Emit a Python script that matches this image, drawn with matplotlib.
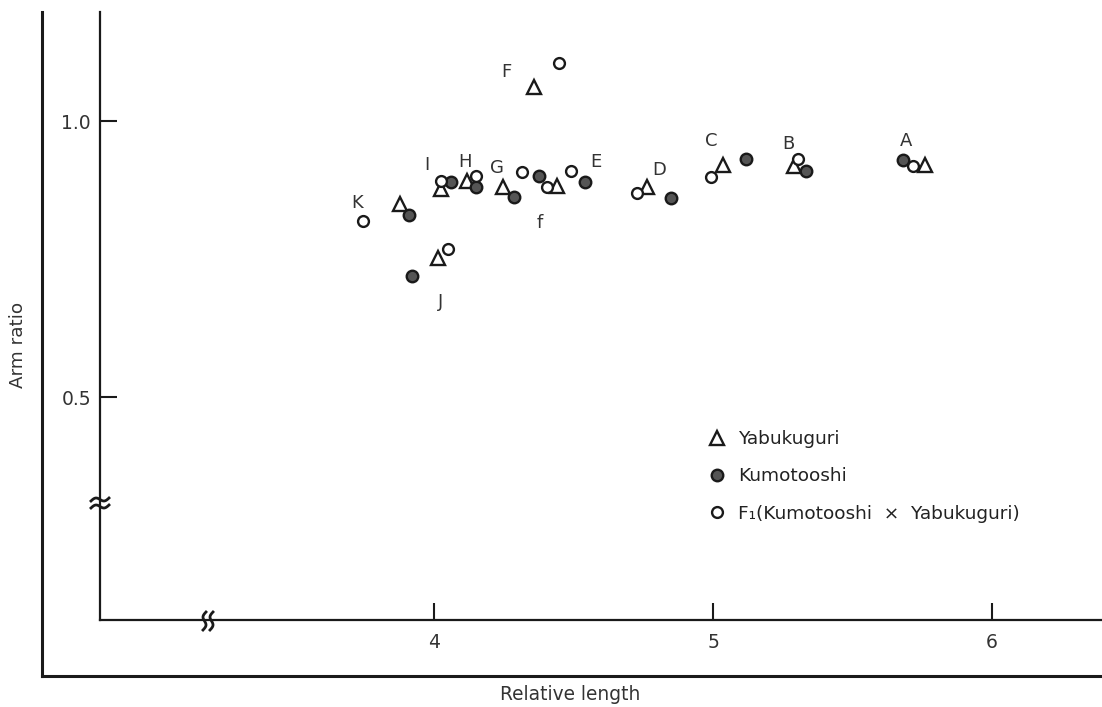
import matplotlib
matplotlib.use("Agg")
import matplotlib.pyplot as plt
from matplotlib.lines import Line2D
import numpy as np

plt.rcParams['font.family'] = ['DejaVu Sans']

# ---------------- data ----------------
yabu_x = [4.360, 3.878, 4.016, 4.025, 4.119, 4.246, 4.442, 4.764, 5.037, 5.290, 5.760]
yabu_y = [1.062, 0.850, 0.751, 0.876, 0.892, 0.881, 0.883, 0.881, 0.920, 0.918, 0.920]

kumo_x = [3.912, 3.920, 4.061, 4.151, 4.287, 4.377, 4.541, 4.848, 5.117, 5.332, 5.682]
kumo_y = [0.829, 0.719, 0.890, 0.881, 0.863, 0.901, 0.890, 0.860, 0.931, 0.909, 0.929]

f1_x = [4.449, 3.747, 4.051, 4.024, 4.151, 4.314, 4.406, 4.491, 4.726, 4.993, 5.303, 5.718]
f1_y = [1.106, 0.818, 0.769, 0.892, 0.901, 0.908, 0.881, 0.910, 0.870, 0.899, 0.932, 0.919]

point_labels = ['A', 'B', 'C', 'D', 'E', 'F', 'G', 'H', 'I', 'J', 'K', 'f']
label_x = [5.692, 5.270, 4.995, 4.808, 4.579, 4.260, 4.227, 4.111, 3.974, 4.025, 3.723, 4.380]
label_y = [0.963, 0.958, 0.964, 0.911, 0.926, 1.089, 0.914, 0.926, 0.920, 0.672, 0.851, 0.816]

x_ticks = [4, 5, 6]
x_ticklabels = ['4', '5', '6']
y_ticks = [0.5, 1.0]
y_ticklabels = ['0.5', '1.0']

series_names = ['Yabukuguri', 'Kumotooshi', 'F\u2081(Kumotooshi  \u00d7  Yabukuguri)']

# ---------------- figure ----------------
W, H = 1102, 707
fig = plt.figure(figsize=(W / 100, H / 100), dpi=100)
fig.patch.set_facecolor('white')

def fx(px):
    return px / W

def fy(py):
    return 1 - py / H

ink = '#1a1a1a'

# outer frame (left + bottom)
outer = fig.add_axes([fx(42), fy(676), 1 - fx(42), fy(12) - fy(676)])
outer.set_xticks([]); outer.set_yticks([])
for s in ['top', 'right']:
    outer.spines[s].set_visible(False)
for s in ['left', 'bottom']:
    outer.spines[s].set_linewidth(2.2)
    outer.spines[s].set_color(ink)
outer.patch.set_alpha(0)

# inner axes
ax = fig.add_axes([fx(100), fy(620), 1 - fx(100), fy(12) - fy(620)])
ax.patch.set_alpha(0)
ax.set_xlim(2.803, 6.394)
ax.set_ylim(0.096, 1.1975)
for s in ['top', 'right']:
    ax.spines[s].set_visible(False)
for s in ['left', 'bottom']:
    ax.spines[s].set_linewidth(1.6)
    ax.spines[s].set_color(ink)

ax.set_xticks(x_ticks)
ax.set_xticklabels(x_ticklabels)
ax.set_yticks(y_ticks)
ax.set_yticklabels(y_ticklabels)
ax.tick_params(axis='both', direction='in', length=12, width=1.5, color=ink,
               labelsize=13.5, labelcolor='#333333')
ax.tick_params(axis='x', pad=9)
ax.tick_params(axis='y', pad=6.5)

ms_common = dict(linestyle='none', markeredgewidth=1.7)
ax.plot(yabu_x, yabu_y, marker='^', markersize=9.5, markerfacecolor='white',
        markeredgecolor=ink, label=series_names[0], zorder=3, **ms_common)
ax.plot(kumo_x, kumo_y, marker='o', markersize=8.3, markerfacecolor='#555555',
        markeredgecolor=ink, label=series_names[1], zorder=3, **ms_common)
ax.plot(f1_x, f1_y, marker='o', markersize=7.8, markerfacecolor='white',
        markeredgecolor=ink, label=series_names[2], zorder=3, **ms_common)

for t, x, y in zip(point_labels, label_x, label_y):
    ax.text(x, y, t, ha='center', va='center', fontsize=13, color='#333333')

leg = ax.legend(loc='upper left', bbox_to_anchor=(fx(707.75), fy(430)),
                bbox_transform=fig.transFigure, frameon=False, numpoints=1,
                fontsize=13.3, handlelength=1.0, handletextpad=0.64,
                labelspacing=1.05, borderpad=0, borderaxespad=0)
for txt in leg.get_texts():
    txt.set_color('#222222')

# axis break marks
def wave(cx, cy, horizontal=True, half=9, amp=2.2):
    t = np.linspace(-1, 1, 40)
    a = t * half
    b = amp * np.sin(t * np.pi) - 1.5 * t
    if horizontal:
        return cx + a, cy + b
    return cx + b, cy + a

for off in (-3.5, 3.5):
    xs, ys = wave(100, 503 + off, horizontal=True)
    fig.add_artist(Line2D(fx(xs), fy(ys), color=ink, lw=2.0))
    xs, ys = wave(208 + off, 621, horizontal=False)
    fig.add_artist(Line2D(fx(xs), fy(ys), color=ink, lw=2.0))

fig.text(fx(18), fy(345), 'Arm ratio', rotation=90, ha='center', va='center',
         fontsize=13.2, color='#333333')
fig.text(fx(570), fy(694), 'Relative length', ha='center', va='center',
         fontsize=13.4, color='#333333')

fig.savefig('out.png', dpi=100, facecolor='white')
